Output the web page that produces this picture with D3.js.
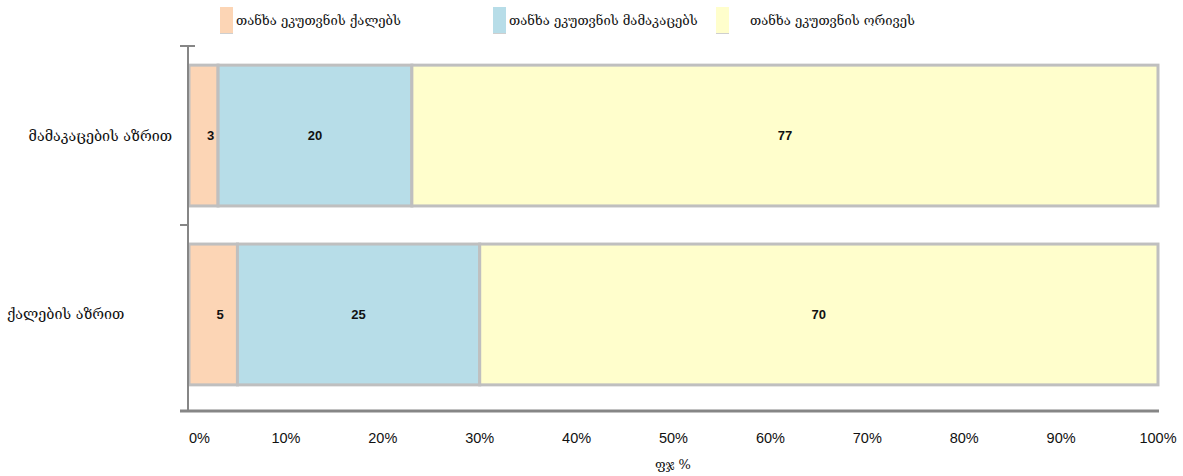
<!DOCTYPE html>
<html>
<head>
<meta charset="utf-8">
<script src="https://cdn.jsdelivr.net/npm/d3@7"></script>
<style>
  html, body { margin: 0; padding: 0; background: #fff; }
  svg { display: block; }
</style>
</head>
<body>
<svg id="chart" width="1183" height="476"></svg>
<script>
// Row categories (top to bottom)
const categories = ["მამაკაცების აზრით", "ქალების აზრით"];
// Series names
const seriesNames = ["თანხა ეკუთვნის ქალებს", "თანხა ეკუთვნის მამაკაცებს", "თანხა ეკუთვნის ორივეს"];
// Share (%) for each series, in category order
const womenShare = [3, 5];
const menShare = [20, 25];
const bothShare = [77, 70];
// Axis ticks
const xTicks = [0, 10, 20, 30, 40, 50, 60, 70, 80, 90, 100];
const xTitle = "ფჯ %";

const colors = ["#FCD5B5", "#B7DDE8", "#FFFECC"];
const georgianFont = "'DejaVu Serif', 'DejaVu Sans', serif";
const numFont = "'Liberation Sans', Arial, sans-serif";

const svg = d3.select("#chart");

const x = d3.scaleLinear().domain([0, 100]).range([189, 1158]);
const y = d3.scaleBand().domain(categories).range([46, 404])
  .paddingInner(0.213).paddingOuter(0.107);

const rows = categories.map((c, i) => ({
  cat: c,
  values: [womenShare[i], menShare[i], bothShare[i]]
}));
const stack = d3.stack().keys([0, 1, 2]).value((d, k) => d.values[k]);
const layers = stack(rows);

// Bars
const g = svg.append("g");
layers.forEach((layer, k) => {
  g.selectAll(null).data(layer).enter().append("rect")
    .attr("x", d => x(d[0]))
    .attr("y", d => y(d.data.cat))
    .attr("width", d => x(d[1]) - x(d[0]))
    .attr("height", y.bandwidth())
    .attr("fill", colors[k])
    .attr("stroke", "#BFBFBF")
    .attr("stroke-width", 3);
});

// Value labels
layers.forEach((layer, k) => {
  g.selectAll(null).data(layer).enter().append("text")
    .attr("x", d => (x(d[0]) + x(d[1])) / 2 + (k === 0 ? 7 : 0))
    .attr("y", d => y(d.data.cat) + y.bandwidth() / 2)
    .attr("dy", "0.35em")
    .attr("text-anchor", "middle")
    .attr("font-family", numFont)
    .attr("font-weight", "bold")
    .attr("font-size", 13)
    .attr("fill", "#111")
    .text(d => d.data.values[k]);
});

// Axes lines
const axisColor = "#868686";
const yAxisX = 188;
const axisBottom = 411;
svg.append("line").attr("x1", yAxisX).attr("x2", yAxisX).attr("y1", 46).attr("y2", axisBottom)
  .attr("stroke", axisColor).attr("stroke-width", 2);
svg.append("line").attr("x1", 180).attr("x2", x(100) + 1).attr("y1", axisBottom).attr("y2", axisBottom)
  .attr("stroke", axisColor).attr("stroke-width", 3);

// Category boundary ticks on the vertical axis
const boundaries = [46, (y(categories[0]) + y.bandwidth() + y(categories[1])) / 2];
svg.selectAll(null).data(boundaries).enter().append("line")
  .attr("x1", 180).attr("x2", (d, i) => i === 0 ? 195 : 188)
  .attr("y1", d => d).attr("y2", d => d)
  .attr("stroke", axisColor).attr("stroke-width", 2);

// X tick labels
svg.selectAll(null).data(xTicks).enter().append("text")
  .attr("x", d => x(d))
  .attr("y", 443)
  .attr("text-anchor", d => d === 0 ? "start" : "middle")
  .attr("font-family", numFont)
  .attr("font-size", 14.5)
  .attr("fill", "#111")
  .text(d => d + "%");

// X title
svg.append("text").attr("x", 673).attr("y", 469).attr("text-anchor", "middle")
  .attr("font-family", georgianFont).attr("font-size", 13).attr("fill", "#111")
  .text(xTitle);

// Category labels
const catAnchor = ["end", "start"];
const catX = [172, 7];
svg.selectAll(null).data(categories).enter().append("text")
  .attr("x", (d, i) => catX[i])
  .attr("y", d => y(d) + y.bandwidth() / 2)
  .attr("dy", "0.35em")
  .attr("text-anchor", (d, i) => catAnchor[i])
  .attr("font-family", georgianFont)
  .attr("font-size", 14.3)
  .attr("fill", "#111")
  .text(d => d);

// Legend
const legendX = [220, 493, 716];
const legendTextGap = [16, 16, 34];
const lg = svg.append("g");
seriesNames.forEach((name, k) => {
  lg.append("rect").attr("x", legendX[k]).attr("y", 7).attr("width", 13).attr("height", 26)
    .attr("fill", colors[k]);
  lg.append("line").attr("x1", legendX[k]).attr("x2", legendX[k] + 13).attr("y1", 33.5).attr("y2", 33.5)
    .attr("stroke", "#CFCFCF").attr("stroke-width", 1);
  lg.append("text").attr("x", legendX[k] + legendTextGap[k]).attr("y", 20).attr("dy", "0.35em")
    .attr("font-family", georgianFont).attr("font-size", 13).attr("fill", "#111")
    .text(name);
});
</script>
</body>
</html>
